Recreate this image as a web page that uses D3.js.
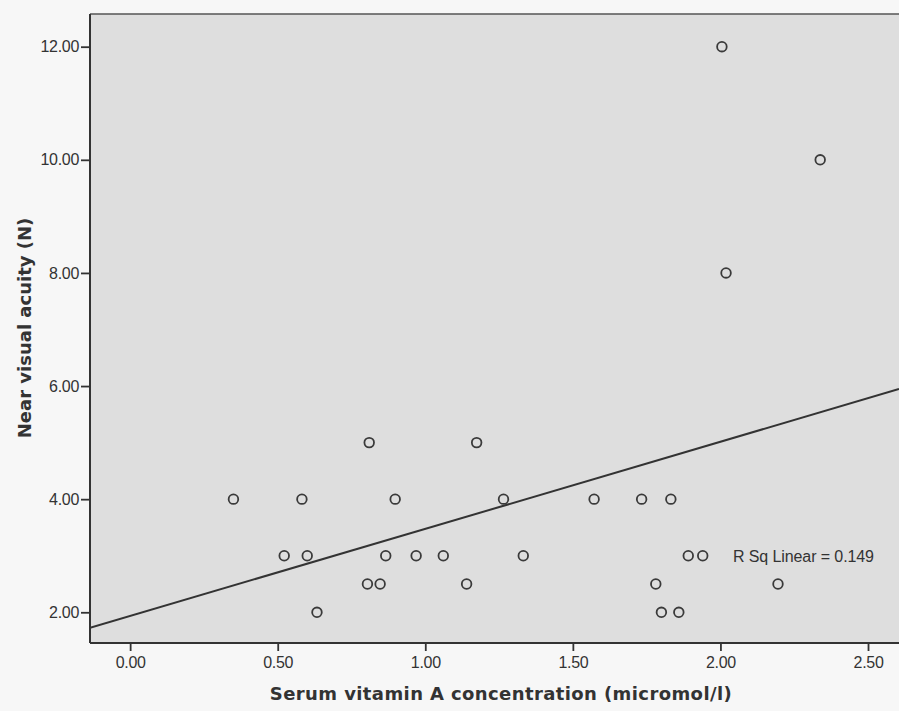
<!DOCTYPE html>
<html>
<head>
<meta charset="utf-8">
<script src="https://cdn.jsdelivr.net/npm/d3@7"></script>
<style>
  html, body { margin: 0; padding: 0; background: #f7f7f7; }
  svg { display: block; }
</style>
</head>
<body>
<svg id="chart" width="899" height="711"></svg>
<script>
// ---- data ----
const vitaminA = [0.35, 0.582, 0.898, 1.265, 1.572, 1.733, 1.832,
                  0.81, 1.174,
                  0.522, 0.60, 0.866, 0.969, 1.061, 1.332, 1.891, 1.94,
                  0.804, 0.847, 1.14, 1.781, 2.195,
                  0.633, 1.80, 1.859,
                  2.005, 2.338, 2.019];
const acuity   = [4, 4, 4, 4, 4, 4, 4,
                  5, 5,
                  3, 3, 3, 3, 3, 3, 3, 3,
                  2.5, 2.5, 2.5, 2.5, 2.5,
                  2, 2, 2,
                  12, 10, 8];
const xTicks = [0, 0.5, 1.0, 1.5, 2.0, 2.5];
const yTicks = [2, 4, 6, 8, 10, 12];
const fitIntercept = 1.935;
const fitSlope = 1.54;
const fitLabel = "R Sq Linear = 0.149";
const xTitle = "Serum vitamin A concentration (micromol/l)";
const yTitle = "Near visual acuity (N)";
const xDomain = [-0.136, 2.605];
const yDomain = [1.457, 12.578];

// ---- layout ----
const svg = d3.select("#chart");
const L = 90, T = 14, R = 899, B = 643;
const x = d3.scaleLinear().domain(xDomain).range([L, R]);
const y = d3.scaleLinear().domain(yDomain).range([B, T]);

// plot background
svg.append("rect").attr("x", L).attr("y", T).attr("width", R - L + 10).attr("height", B - T)
  .attr("fill", "#dedede");

// frame
svg.append("line").attr("x1", L).attr("x2", R + 10).attr("y1", T).attr("y2", T)
  .attr("stroke", "#555").attr("stroke-width", 1.5);
svg.append("line").attr("x1", L).attr("x2", L).attr("y1", T).attr("y2", B)
  .attr("stroke", "#333").attr("stroke-width", 2);
svg.append("line").attr("x1", L).attr("x2", R + 10).attr("y1", B).attr("y2", B)
  .attr("stroke", "#333").attr("stroke-width", 2);

// axes
const tickFont = "'Liberation Sans', Arial, sans-serif";
const yAxis = d3.axisLeft(y).tickValues(yTicks).tickFormat(d3.format(".2f")).tickSize(9).tickPadding(2);
const gy = svg.append("g").attr("transform", `translate(${L},0)`).call(yAxis);
gy.select(".domain").remove();
gy.selectAll(".tick line").attr("stroke", "#333").attr("stroke-width", 1.8);
gy.selectAll(".tick text").attr("font-family", tickFont).attr("font-size", 16).attr("fill", "#333")
  .attr("letter-spacing", -0.3);

const xAxis = d3.axisBottom(x).tickValues(xTicks).tickFormat(d3.format(".2f")).tickSize(8).tickPadding(6);
const gx = svg.append("g").attr("transform", `translate(0,${B})`).call(xAxis);
gx.select(".domain").remove();
gx.selectAll(".tick line").attr("stroke", "#333").attr("stroke-width", 1.8);
gx.selectAll(".tick text").attr("font-family", tickFont).attr("font-size", 16).attr("fill", "#333")
  .attr("letter-spacing", -0.3);

// clip for plot
svg.append("clipPath").attr("id", "clip").append("rect")
  .attr("x", L).attr("y", T).attr("width", R - L + 10).attr("height", B - T);

// fit line
const fitLine = d3.line().x(d => x(d)).y(d => y(fitIntercept + fitSlope * d));
svg.append("path").attr("clip-path", "url(#clip)")
  .attr("d", fitLine(xDomain))
  .attr("fill", "none").attr("stroke", "#333").attr("stroke-width", 2);

// points
const pts = vitaminA.map((v, i) => ({ x: v, y: acuity[i] }));
svg.append("g").selectAll("circle").data(pts).join("circle")
  .attr("cx", d => x(d.x)).attr("cy", d => y(d.y)).attr("r", 4.8)
  .attr("fill", "none").attr("stroke", "#3a3a3a").attr("stroke-width", 1.8);

// fit label
svg.append("text").attr("x", 733).attr("y", 562)
  .attr("font-family", tickFont).attr("font-size", 16).attr("fill", "#333")
  .attr("letter-spacing", -0.1)
  .text(fitLabel);

// titles
const titleFont = "'DejaVu Sans', Verdana, sans-serif";
svg.append("text").attr("x", 501).attr("y", 700).attr("text-anchor", "middle")
  .attr("font-family", titleFont).attr("font-weight", "bold").attr("font-size", 18)
  .attr("letter-spacing", 0.4)
  .attr("fill", "#333").text(xTitle);
svg.append("text").attr("transform", "translate(31,328) rotate(-90)").attr("text-anchor", "middle")
  .attr("font-family", titleFont).attr("font-weight", "bold").attr("font-size", 18)
  .attr("fill", "#333").text(yTitle);
</script>
</body>
</html>
